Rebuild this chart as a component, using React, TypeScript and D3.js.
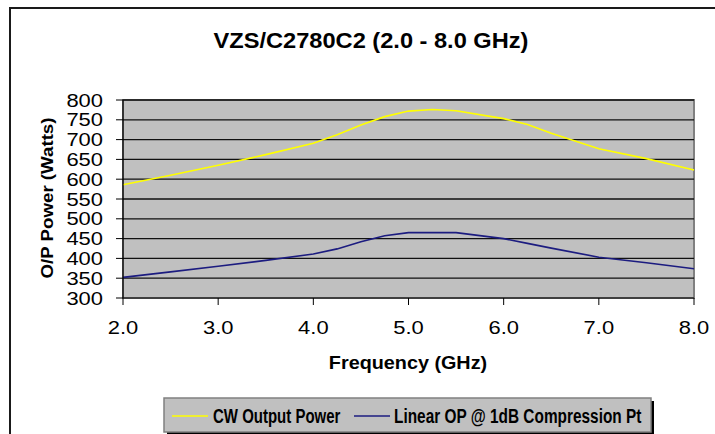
import * as d3 from "d3";

const freqs = [2.0, 2.5, 3.0, 3.5, 4.0, 4.25, 4.5, 4.75, 5.0, 5.25, 5.5, 6.0, 6.25, 6.5, 7.0, 7.5, 8.0];
const cwPower = [586, 610, 635, 662, 691, 712, 737, 758, 772, 776, 773, 753, 738, 716, 677, 652, 623];
const linearPower = [352, 366, 380, 395, 411, 424, 442, 457, 465, 465, 465, 450, 438, 426, 403, 389, 374];
const xTicks = [2, 3, 4, 5, 6, 7, 8];
const yTicks = [300, 350, 400, 450, 500, 550, 600, 650, 700, 750, 800];
const seriesNames = ["CW Output Power", "Linear OP @ 1dB Compression Pt"];

const W = 715;
const H = 434;
const plot = { left: 123, right: 694, top: 100, bottom: 298 };
const font = "'Liberation Sans', Arial, sans-serif";

export default function App() {
  const x = d3.scaleLinear().domain([2, 8]).range([plot.left, plot.right]);
  const y = d3.scaleLinear().domain([300, 800]).range([plot.bottom, plot.top]);

  const line = d3
    .line<number>()
    .x((_, i) => x(freqs[i]))
    .y((d) => y(d))
    .curve(d3.curveLinear);

  const series = [
    { name: seriesNames[0], values: cwPower, color: "#ffff00" },
    { name: seriesNames[1], values: linearPower, color: "#1c1c80" },
  ];

  return (
    <svg
      width={W}
      height={H}
      style={{ position: "absolute", left: 0, top: 0, display: "block", fontFamily: font }}
    >
      <rect x={0} y={0} width={W} height={H} fill="#fff" />
      {/* outer chart frame, runs past the picture edge */}
      <rect x={10} y={8} width={900} height={600} fill="none" stroke="#1a1a1a" strokeWidth={2} />

      <text
        transform={`translate(371,48) scale(1.05,1)`}
        textAnchor="middle"
        fontSize={22.5}
        fontWeight="bold"
      >
        VZS/C2780C2 (2.0 - 8.0 GHz)
      </text>

      {/* plot area */}
      <rect
        x={plot.left}
        y={plot.top}
        width={plot.right - plot.left}
        height={plot.bottom - plot.top}
        fill="#c0c0c0"
        stroke="#808080"
        strokeWidth={2}
      />
      {yTicks.slice(1).map((t) => (
        <line key={t} x1={plot.left} x2={plot.right} y1={y(t)} y2={y(t)} stroke="#111" strokeWidth={1.3} />
      ))}

      {series.map((s) => (
        <path key={s.name} d={line(s.values) ?? ""} fill="none" stroke={s.color} strokeWidth={1.6} />
      ))}

      {/* axes */}
      <line x1={plot.left} x2={plot.left} y1={plot.top} y2={plot.bottom} stroke="#000" strokeWidth={1.2} />
      <line x1={plot.left} x2={plot.right} y1={plot.bottom} y2={plot.bottom} stroke="#000" strokeWidth={1.2} />
      {yTicks.map((t) => (
        <g key={t}>
          <line x1={plot.left - 7} x2={plot.left} y1={y(t)} y2={y(t)} stroke="#000" strokeWidth={1} />
          <text
            transform={`translate(${plot.left - 20},${y(t) + 6.5}) scale(1.22,1)`}
            textAnchor="end"
            fontSize={18}
          >
            {t}
          </text>
        </g>
      ))}
      {xTicks.map((t) => (
        <g key={t}>
          <line x1={x(t)} x2={x(t)} y1={plot.bottom} y2={plot.bottom + 7} stroke="#000" strokeWidth={1} />
          <text
            transform={`translate(${x(t)},${plot.bottom + 36}) scale(1.22,1)`}
            textAnchor="middle"
            fontSize={18}
          >
            {t.toFixed(1)}
          </text>
        </g>
      ))}

      <text
        transform={`translate(408,369) scale(1.1,1)`}
        textAnchor="middle"
        fontSize={18}
        fontWeight="bold"
      >
        Frequency (GHz)
      </text>
      <text
        transform={`translate(53,198) rotate(-90) scale(1.1,1)`}
        textAnchor="middle"
        fontSize={17}
        fontWeight="bold"
      >
        O/P Power (Watts)
      </text>

      {/* legend */}
      <rect x={167} y={401} width={487} height={34} fill="#000" />
      <rect x={164} y={398} width={487} height={34} fill="#c0c0c0" stroke="#808080" strokeWidth={1.5} />
      <line x1={172} x2={208} y1={416} y2={416} stroke={series[0].color} strokeWidth={1.6} />
      <text
        transform="translate(213,423) scale(0.75,1.05)"
        fontSize={20}
        fontWeight="bold"
      >
        {series[0].name}
      </text>
      <line x1={354} x2={390} y1={416} y2={416} stroke={series[1].color} strokeWidth={1.6} />
      <text
        transform="translate(394,423) scale(0.77,1.05)"
        fontSize={20}
        fontWeight="bold"
      >
        {series[1].name}
      </text>
    </svg>
  );
}
